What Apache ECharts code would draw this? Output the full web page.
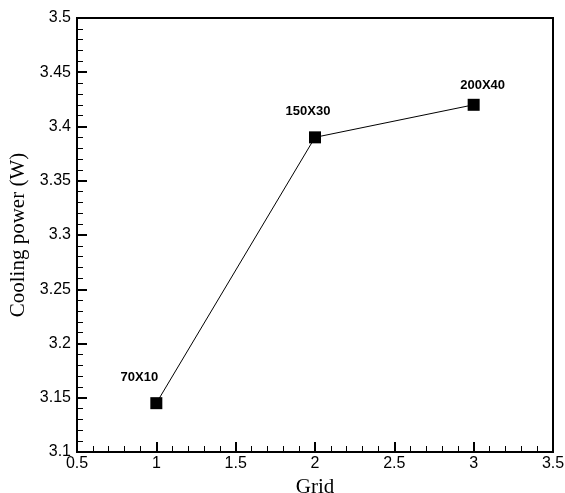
<!DOCTYPE html>
<html>
<head>
<meta charset="utf-8">
<script src="https://cdn.jsdelivr.net/npm/echarts@6/dist/echarts.min.js"></script>
<style>html,body{margin:0;padding:0;background:#fff}#c{width:565px;height:493px}</style>
</head>
<body>
<div id="c"></div>
<script>
const gridIndex = [1, 2, 3];
const coolingPower = [3.145, 3.39, 3.42];
const gridNames = ['70X10', '150X30', '200X40'];
const labelOffsets = [[-17, -26], [-7, -26], [9, -19]];

const chart = echarts.init(document.getElementById('c'), null, {renderer: 'canvas'});
const tickFont = {fontFamily: 'Liberation Sans, Arial, sans-serif', fontSize: 16, color: '#000'};
const titleFont = {fontFamily: 'Liberation Serif, Times New Roman, serif', fontSize: 21, color: '#000'};
chart.setOption({
  animation: false,
  backgroundColor: '#fff',
  grid: {left: 77, right: 12, top: 18, bottom: 41, outerBoundsMode: 'none', containLabel: false,
         show: true, borderColor: '#000', borderWidth: 2, backgroundColor: 'transparent'},
  xAxis: {
    type: 'value', min: 0.5, max: 3.5, interval: 0.5,
    name: 'Grid', nameLocation: 'middle', nameGap: 19,
    nameTextStyle: titleFont,
    axisLine: {show: true, lineStyle: {color: '#000', width: 2}},
    axisTick: {show: true, inside: true, length: 10, lineStyle: {color: '#000', width: 2}},
    minorTick: {show: true, splitNumber: 5, length: 6, lineStyle: {color: '#000', width: 1}},
    splitLine: {show: false},
    axisLabel: Object.assign({margin: 4}, tickFont)
  },
  yAxis: {
    type: 'value', min: 3.1, max: 3.5, interval: 0.05,
    name: 'Cooling power (W)', nameLocation: 'middle', nameGap: 48,
    nameTextStyle: titleFont,
    axisLine: {show: true, lineStyle: {color: '#000', width: 2}},
    axisTick: {show: true, inside: true, length: 10, lineStyle: {color: '#000', width: 2}},
    minorTick: {show: true, splitNumber: 5, length: 6, lineStyle: {color: '#000', width: 1}},
    splitLine: {show: false},
    axisLabel: Object.assign({margin: 6, formatter: v => String(+v.toFixed(2))}, tickFont)
  },
  series: [{
    type: 'line',
    data: gridIndex.map((x, i) => ({
      value: [x, coolingPower[i]],
      label: {show: true, formatter: gridNames[i], position: 'inside', offset: labelOffsets[i]}
    })),
    symbol: 'rect', symbolSize: 12,
    itemStyle: {color: '#000'},
    lineStyle: {color: '#000', width: 1},
    label: {fontFamily: 'Liberation Sans, Arial, sans-serif', fontWeight: 'bold', fontSize: 13, color: '#000'}
  }]
});
</script>
</body>
</html>
